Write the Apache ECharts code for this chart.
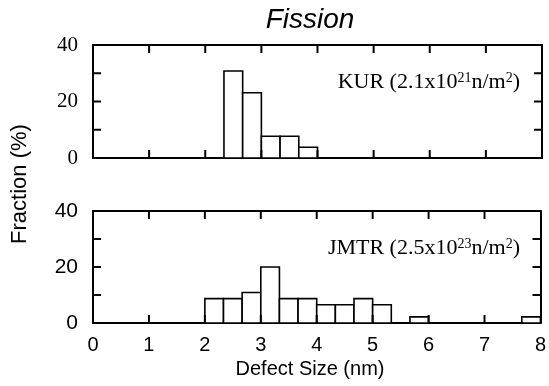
<!DOCTYPE html>
<html>
<head>
<meta charset="utf-8">
<script src="https://cdn.jsdelivr.net/npm/echarts@6/dist/echarts.min.js"></script>
<style>
html,body{margin:0;padding:0;background:#fff;}
#chart{width:549px;height:386px;}
</style>
</head>
<body>
<div id="chart"></div>
<script>
// ---- data ----
const binWidth = 0.3333;
const kurBinStarts = [2.3333, 2.6667, 3.0, 3.3333, 3.6667];
const kurValues = [30.8, 23.1, 7.7, 7.7, 3.8];
const jmtrBinStarts = [2.0, 2.3333, 2.6667, 3.0, 3.3333, 3.6667, 4.0, 4.3333, 4.6667, 5.0, 5.6667, 7.6667];
const jmtrValues = [8.7, 8.7, 10.9, 20.0, 8.7, 8.7, 6.5, 6.5, 8.7, 6.5, 2.2, 2.2];
const xTicks = [0, 1, 2, 3, 4, 5, 6, 7, 8];
const yTicks = [0, 10, 20, 30, 40];
const yTickLabels = [0, 20, 40];

const SERIF = '"Liberation Serif", "DejaVu Serif", serif';
const SANS = '"Liberation Sans", Arial, sans-serif';
const TICK = 8;

function toData(starts, vals) {
  return starts.map((s, i) => [s, s + binWidth, vals[i]]);
}

function renderBin(params, api) {
  const p0 = api.coord([api.value(0), 0]);
  const p1 = api.coord([api.value(1), api.value(2)]);
  return {
    type: 'rect',
    shape: { x: p0[0], y: p1[1], width: p1[0] - p0[0], height: p0[1] - p1[1] },
    style: { fill: '#fff', stroke: '#000', lineWidth: 1.6 }
  };
}

// inward ticks on all four sides, placed through the axes' scales
function renderXTick(params, api) {
  const x = api.value(0);
  const b = api.coord([x, yTicks[0]]);
  const t = api.coord([x, yTicks[yTicks.length - 1]]);
  return { type: 'group', children: [
    { type: 'rect', shape: { x: b[0] - 1, y: b[1] - TICK, width: 2, height: TICK }, style: { fill: '#000' } },
    { type: 'rect', shape: { x: t[0] - 1, y: t[1], width: 2, height: TICK }, style: { fill: '#000' } }
  ] };
}
function renderYTick(params, api) {
  const y = api.value(1);
  const l = api.coord([xTicks[0], y]);
  const r = api.coord([xTicks[xTicks.length - 1], y]);
  return { type: 'group', children: [
    { type: 'rect', shape: { x: l[0], y: l[1] - 1, width: TICK, height: 2 }, style: { fill: '#000' } },
    { type: 'rect', shape: { x: r[0] - TICK, y: r[1] - 1, width: TICK, height: 2 }, style: { fill: '#000' } }
  ] };
}

const grids = [
  { left: 93, top: 45, width: 449, height: 113 },
  { left: 93, top: 211, width: 449, height: 112 }
];

function xAxisDef(gridIndex, position, showLabel) {
  return {
    type: 'value', gridIndex: gridIndex, position: position,
    min: xTicks[0], max: xTicks[xTicks.length - 1], interval: 1,
    axisLine: { show: true, onZero: false, lineStyle: { color: '#000', width: 2 } },
    axisTick: { show: false },
    axisLabel: { show: showLabel, color: '#000', fontFamily: SANS, fontSize: 20, margin: 12 },
    splitLine: { show: false }
  };
}
function yAxisDef(gridIndex, position, showLabel, font) {
  return {
    type: 'value', gridIndex: gridIndex, position: position,
    min: yTicks[0], max: yTicks[yTicks.length - 1], interval: 10,
    axisLine: { show: true, onZero: false, lineStyle: { color: '#000', width: 2 } },
    axisTick: { show: false },
    axisLabel: {
      show: showLabel, color: '#000', fontFamily: font, fontSize: 21, margin: 15,
      formatter: v => (yTickLabels.indexOf(v) >= 0 ? String(v) : '')
    },
    splitLine: { show: false }
  };
}

const innerX = xTicks.slice(1, -1).map(v => [v, yTicks[0]]);
const innerY = yTicks.slice(1, -1).map(v => [xTicks[0], v]);

const series = [];
series.push({ type: 'custom', xAxisIndex: 0, yAxisIndex: 0, data: toData(kurBinStarts, kurValues), renderItem: renderBin, encode: { x: [0, 1], y: 2 } });
series.push({ type: 'custom', xAxisIndex: 2, yAxisIndex: 2, data: toData(jmtrBinStarts, jmtrValues), renderItem: renderBin, encode: { x: [0, 1], y: 2 } });
[0, 2].forEach(a => {
  series.push({ type: 'custom', xAxisIndex: a, yAxisIndex: a, data: innerX, renderItem: renderXTick, encode: { x: 0, y: 1 }, silent: true, z: 5 });
  series.push({ type: 'custom', xAxisIndex: a, yAxisIndex: a, data: innerY, renderItem: renderYTick, encode: { x: 0, y: 1 }, silent: true, z: 5 });
});

const option = {
  backgroundColor: '#fff',
  animation: false,
  grid: grids,
  xAxis: [xAxisDef(0, 'bottom', false), xAxisDef(0, 'top', false), xAxisDef(1, 'bottom', true), xAxisDef(1, 'top', false)],
  yAxis: [yAxisDef(0, 'left', true, SERIF), yAxisDef(0, 'right', false, SERIF), yAxisDef(1, 'left', true, SANS), yAxisDef(1, 'right', false, SANS)],
  series: series,
  graphic: [
    { type: 'text', x: 310, y: 20, style: { text: 'Fission', fontFamily: SANS, fontStyle: 'italic', fontSize: 28, fill: '#000', textAlign: 'center', textVerticalAlign: 'middle' } },
    { type: 'text', x: 310, y: 369, style: { text: 'Defect Size (nm)', fontFamily: SANS, fontSize: 20, fill: '#000', textAlign: 'center', textVerticalAlign: 'middle' } },
    { type: 'text', x: 20, y: 184, rotation: Math.PI / 2, style: { text: 'Fraction (%)', fontFamily: SANS, fontSize: 22, fill: '#000', textAlign: 'center', textVerticalAlign: 'middle' } },
    { type: 'text', x: 520, y: 82, style: {
        text: '{m|KUR (2.1x10}{s|21}{m|n/m}{s|2}{m|)}', textAlign: 'right', textVerticalAlign: 'middle',
        rich: { m: { fontFamily: SERIF, fontSize: 22, fill: '#000', verticalAlign: 'bottom' }, s: { fontFamily: SERIF, fontSize: 14, fill: '#000', verticalAlign: 'top' } } } },
    { type: 'text', x: 520, y: 248, style: {
        text: '{m|JMTR (2.5x10}{s|23}{m|n/m}{s|2}{m|)}', textAlign: 'right', textVerticalAlign: 'middle',
        rich: { m: { fontFamily: SERIF, fontSize: 22, fill: '#000', verticalAlign: 'bottom' }, s: { fontFamily: SERIF, fontSize: 14, fill: '#000', verticalAlign: 'top' } } } }
  ]
};

const chart = echarts.init(document.getElementById('chart'), null, { renderer: 'canvas' });
chart.setOption(option);
</script>
</body>
</html>
